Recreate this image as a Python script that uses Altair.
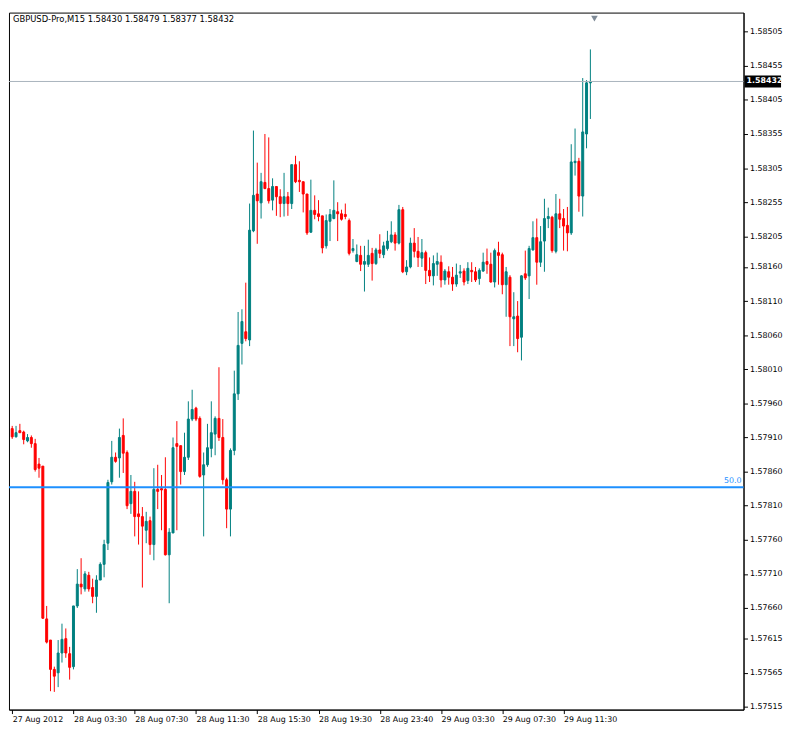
import altair as alt
import pandas as pd

# ---- data (GBPUSD M15) ----
opens = [1.57923,1.57911,1.57920,1.57918,1.57905,1.57910,1.57901,1.57871,1.57868,1.57644,
         1.57613,1.57570,1.57565,1.57594,1.57615,1.57593,1.57574,1.57663,1.57695,1.57688,
         1.57708,1.57690,1.57677,1.57701,1.57724,1.57755,1.57845,1.57881,1.57880,1.57913,
         1.57888,1.57813,1.57831,1.57798,1.57794,1.57774,1.57788,1.57753,1.57834,1.57835,
         1.57834,1.57738,1.57770,1.57901,1.57898,1.57860,1.57881,1.57937,1.57953,1.57938,
         1.57855,1.57870,1.57894,1.57915,1.57938,1.57910,1.57848,1.57805,1.57891,1.57974,
         1.58048,1.58065,1.58053,1.58213,1.58267,1.58254,1.58284,1.58275,1.58258,1.58278,
         1.58263,1.58253,1.58263,1.58253,1.58310,1.58287,1.58285,1.58267,1.58211,1.58243,
         1.58238,1.58235,1.58191,1.58227,1.58231,1.58241,1.58238,1.58237,1.58228,1.58184,
         1.58168,1.58177,1.58164,1.58164,1.58180,1.58165,1.58185,1.58178,1.58187,1.58197,
         1.58207,1.58195,1.58244,1.58153,1.58160,1.58195,1.58183,1.58173,1.58181,1.58155,
         1.58147,1.58164,1.58167,1.58141,1.58153,1.58145,1.58135,1.58151,1.58154,1.58140,
         1.58155,1.58153,1.58143,1.58154,1.58168,1.58164,1.58138,1.58181,1.58178,1.58134,
         1.58145,1.58084,1.58088,1.58057,1.58150,1.58147,1.58185,1.58203,1.58167,1.58198,
         1.58231,1.58233,1.58183,1.58238,1.58231,1.58221,1.58210,1.58313,1.58315,1.58264,
         1.58355,1.58430]
highs = [1.57927,1.57927,1.57930,1.57920,1.57915,1.57913,1.57908,1.57880,1.57868,1.57663,
         1.57613,1.57574,1.57613,1.57637,1.57630,1.57603,1.57663,1.57717,1.57733,1.57714,
         1.57713,1.57703,1.57708,1.57727,1.57760,1.57848,1.57905,1.57888,1.57923,1.57938,
         1.57891,1.57855,1.57845,1.57831,1.57808,1.57801,1.57794,1.57865,1.57870,1.57855,
         1.57881,1.57777,1.57910,1.57934,1.57898,1.57917,1.57963,1.57980,1.57955,1.57941,
         1.57888,1.57930,1.57963,1.57941,1.58013,1.57937,1.57851,1.57894,1.58008,1.58094,
         1.58098,1.58137,1.58253,1.58360,1.58313,1.58298,1.58355,1.58350,1.58290,1.58278,
         1.58274,1.58298,1.58270,1.58310,1.58323,1.58315,1.58285,1.58267,1.58288,1.58265,
         1.58258,1.58235,1.58237,1.58245,1.58287,1.58255,1.58244,1.58253,1.58231,1.58201,
         1.58193,1.58191,1.58191,1.58200,1.58188,1.58188,1.58208,1.58197,1.58213,1.58227,
         1.58211,1.58251,1.58248,1.58170,1.58203,1.58217,1.58204,1.58201,1.58184,1.58174,
         1.58177,1.58181,1.58177,1.58157,1.58161,1.58160,1.58165,1.58163,1.58158,1.58167,
         1.58167,1.58160,1.58158,1.58181,1.58187,1.58181,1.58187,1.58197,1.58181,1.58160,
         1.58148,1.58123,1.58110,1.58148,1.58184,1.58191,1.58227,1.58231,1.58220,1.58260,
         1.58247,1.58235,1.58267,1.58260,1.58245,1.58248,1.58340,1.58363,1.58320,1.58437,
         1.58434,1.58479]
lows = [1.57908,1.57910,1.57917,1.57900,1.57903,1.57895,1.57860,1.57851,1.57644,1.57608,
        1.57538,1.57537,1.57544,1.57580,1.57587,1.57555,1.57570,1.57660,1.57680,1.57684,
        1.57684,1.57667,1.57653,1.57701,1.57705,1.57745,1.57841,1.57873,1.57851,1.57858,
        1.57805,1.57798,1.57765,1.57753,1.57690,1.57755,1.57738,1.57730,1.57805,1.57774,
        1.57737,1.57667,1.57770,1.57774,1.57841,1.57855,1.57877,1.57934,1.57934,1.57851,
        1.57765,1.57867,1.57881,1.57884,1.57905,1.57841,1.57777,1.57765,1.57884,1.57965,
        1.58017,1.58051,1.58044,1.58211,1.58194,1.58231,1.58274,1.58253,1.58243,1.58235,
        1.58233,1.58234,1.58235,1.58245,1.58283,1.58270,1.58240,1.58207,1.58210,1.58230,
        1.58227,1.58180,1.58187,1.58198,1.58230,1.58198,1.58228,1.58230,1.58177,1.58181,
        1.58167,1.58154,1.58124,1.58160,1.58140,1.58163,1.58173,1.58173,1.58184,1.58195,
        1.58184,1.58193,1.58151,1.58148,1.58158,1.58174,1.58160,1.58160,1.58135,1.58138,
        1.58133,1.58147,1.58130,1.58134,1.58134,1.58125,1.58131,1.58144,1.58133,1.58135,
        1.58138,1.58138,1.58134,1.58153,1.58150,1.58137,1.58130,1.58134,1.58120,1.58087,
        1.58044,1.58044,1.58035,1.58023,1.58141,1.58113,1.58184,1.58134,1.58160,1.58153,
        1.58217,1.58181,1.58180,1.58217,1.58184,1.58183,1.58207,1.58294,1.58241,1.58234,
        1.58334,1.58377]
closes = [1.57911,1.57917,1.57917,1.57907,1.57910,1.57901,1.57863,1.57865,1.57645,1.57610,
          1.57570,1.57560,1.57594,1.57614,1.57594,1.57573,1.57663,1.57695,1.57691,1.57710,
          1.57688,1.57677,1.57701,1.57724,1.57753,1.57844,1.57881,1.57875,1.57910,1.57887,
          1.57810,1.57831,1.57794,1.57794,1.57780,1.57787,1.57753,1.57834,1.57831,1.57833,
          1.57738,1.57771,1.57895,1.57897,1.57860,1.57881,1.57937,1.57951,1.57937,1.57853,
          1.57870,1.57895,1.57917,1.57938,1.57910,1.57848,1.57805,1.57891,1.57974,1.58045,
          1.58080,1.58055,1.58214,1.58265,1.58257,1.58285,1.58275,1.58257,1.58278,1.58263,
          1.58253,1.58263,1.58253,1.58310,1.58285,1.58285,1.58267,1.58210,1.58243,1.58237,
          1.58234,1.58188,1.58228,1.58237,1.58243,1.58238,1.58230,1.58234,1.58180,1.58187,
          1.58178,1.58164,1.58168,1.58177,1.58165,1.58185,1.58180,1.58191,1.58198,1.58207,
          1.58195,1.58244,1.58153,1.58160,1.58195,1.58183,1.58174,1.58181,1.58155,1.58147,
          1.58165,1.58168,1.58141,1.58154,1.58145,1.58135,1.58148,1.58153,1.58138,1.58158,
          1.58153,1.58141,1.58155,1.58167,1.58164,1.58138,1.58184,1.58177,1.58134,1.58153,
          1.58087,1.58087,1.58055,1.58147,1.58144,1.58187,1.58203,1.58167,1.58197,1.58231,
          1.58234,1.58184,1.58238,1.58230,1.58220,1.58210,1.58314,1.58315,1.58264,1.58358,
          1.58430,1.58432]

x_labels = ["27 Aug 2012", "28 Aug 03:30", "28 Aug 07:30", "28 Aug 11:30", "28 Aug 15:30",
            "28 Aug 19:30", "28 Aug 23:40", "29 Aug 03:30", "29 Aug 07:30", "29 Aug 11:30"]
x_label_bars = [0, 16, 32, 48, 64, 80, 96, 112, 128, 144]
y_ticks = [1.58505, 1.58455, 1.58405, 1.58355, 1.58305, 1.58255, 1.58205, 1.58160, 1.58110,
           1.58060, 1.58010, 1.57960, 1.57910, 1.57860, 1.57810, 1.57760, 1.57710, 1.57660,
           1.57615, 1.57565, 1.57515]
title_text = "GBPUSD-Pro,M15  1.58430 1.58479 1.58377 1.58432"
last_price = [1.58432]
last_label = ["1.58432"]
level_price = [1.57837]
level_label = ["50.0"]

# ---- chart ----
W, H = 744, 706
FONT = "DejaVu Sans"
n = len(opens)
df = pd.DataFrame({"i": list(range(n)), "open": opens, "high": highs,
                   "low": lows, "close": closes})
df["dir"] = ["up" if c >= o else "down" for o, c in zip(opens, closes)]

xscale = alt.Scale(domain=[-0.84, 191.0], nice=False, zero=False, padding=0)
yscale = alt.Scale(domain=[1.57511, 1.58533], nice=False, zero=False, padding=0)
cscale = alt.Scale(domain=["up", "down"], range=["#008080", "#ff0000"])

label_map = "{" + ",".join(f"'{b}':'{s}'" for b, s in zip(x_label_bars, x_labels)) + "}"
label_expr = label_map + "[''+datum.value]"

xaxis = alt.Axis(values=x_label_bars, labelExpr=label_expr, title=None, grid=False,
                 labelAlign="left", labelBaseline="top", labelPadding=2, tickSize=4,
                 labelOverlap=False, labelFlush=False, domainColor="black",
                 tickColor="black", labelColor="black", labelFont=FONT, labelFontSize=8)
yaxis = alt.Axis(orient="right", values=y_ticks, format=".5f", title=None, grid=False,
                 tickSize=4, labelPadding=2, labelOverlap=False, labelFlush=False,
                 domainColor="black", tickColor="black", labelColor="black",
                 labelFont=FONT, labelFontSize=8)

def Y(field):
    return alt.Y(field, scale=yscale, axis=yaxis)

base = alt.Chart(df)
wicks = base.mark_rule(strokeWidth=1).encode(
    x=alt.X("i:Q", scale=xscale, axis=xaxis),
    y=Y("low:Q"),
    y2="high:Q",
    color=alt.Color("dir:N", scale=cscale, legend=None),
)
bodies = base.mark_bar(size=2, strokeWidth=1).encode(
    x=alt.X("i:Q", scale=xscale, axis=xaxis),
    y=Y("open:Q"),
    y2="close:Q",
    fill=alt.Fill("dir:N", scale=cscale, legend=None),
    stroke=alt.Stroke("dir:N", scale=cscale, legend=None),
)

price_df = pd.DataFrame({"p": last_price, "t": last_label})
price_line = alt.Chart(price_df).mark_rule(color="#a9b3bd", strokeWidth=1).encode(
    y=Y("p:Q"))
price_box = alt.Chart(price_df).mark_rect(color="black", yOffset=-6, y2Offset=6).encode(
    x=alt.value(W + 1), x2=alt.value(W + 38),
    y=Y("p:Q"), y2="p:Q")
price_txt = alt.Chart(price_df).mark_text(color="white", font=FONT, fontSize=8,
                                          fontWeight="bold", align="left",
                                          baseline="middle").encode(
    x=alt.value(W + 3), y=Y("p:Q"), text="t:N")

lvl_df = pd.DataFrame({"p": level_price, "t": level_label})
lvl_line = alt.Chart(lvl_df).mark_rule(color="#1e90ff", strokeWidth=2).encode(
    y=Y("p:Q"))
lvl_txt = alt.Chart(lvl_df).mark_text(color="#1e90ff", font=FONT, fontSize=8,
                                      align="right", baseline="bottom", dx=-2, dy=-2).encode(
    x=alt.value(W), y=Y("p:Q"), text="t:N")

title_df = pd.DataFrame({"t": [title_text]})
title_txt = alt.Chart(title_df).mark_text(color="black", font=FONT, fontSize=8.5,
                                          align="left", baseline="top").encode(
    x=alt.value(4), y=alt.value(3), text="t:N")

shift_mark = alt.Chart(title_df).mark_point(shape="triangle-down", filled=True, size=45,
                                            color="#7f8b97", opacity=1).encode(
    x=alt.value(593), y=alt.value(6))

chart = alt.layer(wicks, bodies, price_line, lvl_line, lvl_txt, title_txt, shift_mark,
                  price_box, price_txt).properties(
    width=W, height=H,
    padding={"left": 0, "top": 0, "right": 2, "bottom": 2},
    background="white",
).configure_view(stroke="black", strokeWidth=1)

chart.save("out.html", embed_options={"renderer": "svg", "actions": False})
